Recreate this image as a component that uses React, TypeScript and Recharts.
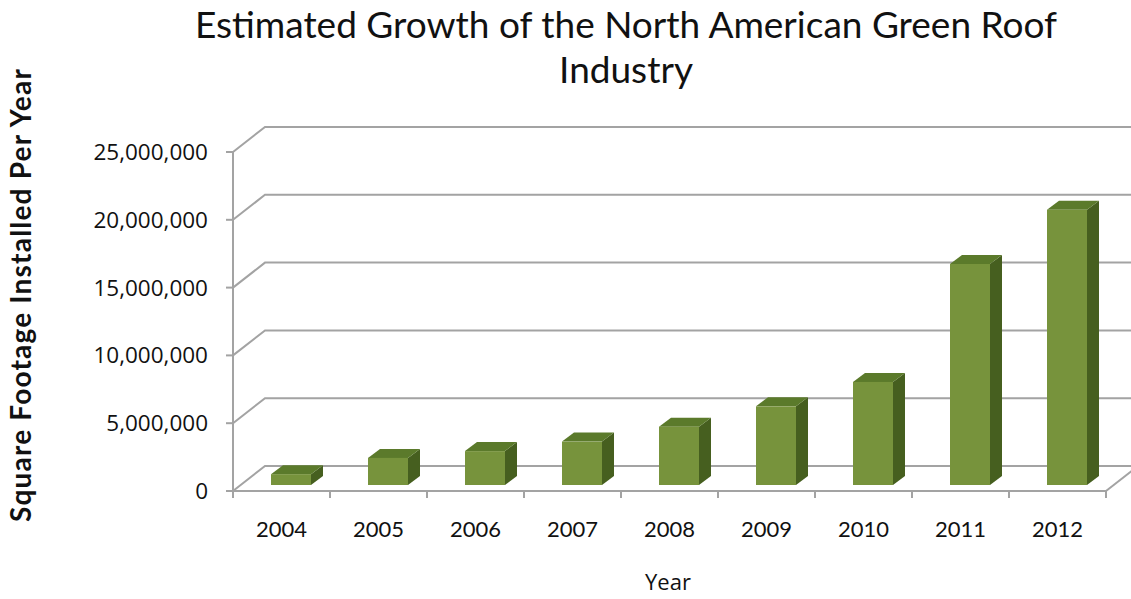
import React from "react";
import { BarChart, Bar, XAxis, YAxis, CartesianGrid } from "recharts";

const YEARS = ["2004", "2005", "2006", "2007", "2008", "2009", "2010", "2011", "2012"];
const SQ_FT = [800000, 2000000, 2500000, 3200000, 4300000, 5800000, 7600000, 16300000, 20300000];
const Y_TICKS = [0, 5000000, 10000000, 15000000, 20000000, 25000000];

const data = YEARS.map((year, i) => ({ year, value: SQ_FT[i] }));

const W = 1131;
const H = 599;
const X_AXIS_H = 30;
const MARGIN = { top: 152, right: 25, bottom: 108 - X_AXIS_H, left: 40 };
const Y_AXIS_W = 193;
const PLOT_W = W - MARGIN.left - MARGIN.right - Y_AXIS_W;
const BAND = PLOT_W / YEARS.length;

// perspective of the back wall and of the bars inside the box
const WALL_DX = 32;
const WALL_DY = -25;
const BAR_DX = 9;
const BAR_DY = -6;
const TOP_DX = 12;
const TOP_DY = -9;

const GRID = "#a3a3a3";
const FRONT = "#77933c";
const TOP = "#5b7a2b";
const SIDE = "#465f1f";

const TITLE_FONT = "Lato, 'Open Sans', sans-serif";
const TICK_FONT = "'Open Sans', 'Noto Sans', sans-serif";

function WallLine(props: any) {
  const { x1, y1, x2 } = props;
  const d = `M${x1},${y1} L${x1 + WALL_DX},${y1 + WALL_DY} L${x2 + WALL_DX},${y1 + WALL_DY}`;
  return <path d={d} fill="none" stroke={GRID} strokeWidth={2} />;
}

function Box3D(props: any) {
  const { x, y, width, height } = props;
  if (height == null || width == null) return null;
  const fx = x + BAR_DX;
  const fy = y + BAR_DY;
  const top = `M${fx},${fy} L${fx + TOP_DX},${fy + TOP_DY} L${fx + width + TOP_DX},${fy + TOP_DY} L${fx + width},${fy} Z`;
  const side = `M${fx + width},${fy} L${fx + width + TOP_DX},${fy + TOP_DY} L${fx + width + TOP_DX},${fy + height + TOP_DY} L${fx + width},${fy + height} Z`;
  return (
    <g>
      <path d={side} fill={SIDE} />
      <path d={top} fill={TOP} />
      <rect x={fx} y={fy} width={width} height={height} fill={FRONT} />
    </g>
  );
}

function YearTick(props: any) {
  const { x, y, payload, index } = props;
  const axisY = y - 8;
  const left = x - BAND / 2;
  const right = x + BAND / 2;
  const last = index === YEARS.length - 1;
  return (
    <g>
      <line x1={left} y1={axisY} x2={left} y2={axisY + 7} stroke={GRID} strokeWidth={2} />
      {last && (
        <>
          <line x1={right} y1={axisY} x2={right} y2={axisY + 7} stroke={GRID} strokeWidth={2} />
          <line x1={right} y1={axisY} x2={right + WALL_DX} y2={axisY + WALL_DY} stroke={GRID} strokeWidth={2} />
        </>
      )}
      <text x={x} y={axisY + 46} textAnchor="middle" fontFamily={TITLE_FONT} fontSize={22} fill="#111">
        {payload.value}
      </text>
    </g>
  );
}

const fmt = (v: number) => v.toLocaleString("en-US");

export default function App() {
  return (
    <div style={{ position: "absolute", left: 0, top: 0, width: W, height: H, background: "#fff" }}>
      <BarChart width={W} height={H} data={data} margin={MARGIN} barSize={40}>
        <CartesianGrid vertical={false} horizontal={(p: any) => <WallLine key={p.key} {...p} />} />
        <XAxis
          dataKey="year"
          height={X_AXIS_H}
          axisLine={{ stroke: GRID, strokeWidth: 2 }}
          tickLine={false}
          tick={<YearTick />}
          interval={0}
        />
        <YAxis
          width={Y_AXIS_W}
          domain={[0, 25000000]}
          ticks={Y_TICKS}
          tickFormatter={fmt}
          axisLine={{ stroke: GRID, strokeWidth: 2 }}
          tickLine={{ stroke: GRID, strokeWidth: 2 }}
          tickSize={7}
          tickMargin={18}
          tick={{ fontFamily: TICK_FONT, fontSize: 22.5, fill: "#111" }}
        />
        <Bar dataKey="value" shape={<Box3D />} isAnimationActive={false} />
      </BarChart>
      <svg
        width={W}
        height={H}
        style={{ position: "absolute", left: 0, top: 0, pointerEvents: "none" }}
      >
        <text x={626} y={38} textAnchor="middle" fontFamily={TITLE_FONT} fontSize={37} fill="#111">
          Estimated Growth of the North American Green Roof
        </text>
        <text x={626} y={83} textAnchor="middle" fontFamily={TITLE_FONT} fontSize={37} fill="#111">
          Industry
        </text>
        <text
          x={0}
          y={0}
          transform="translate(31,295) rotate(-90)"
          textAnchor="middle"
          fontFamily={TITLE_FONT}
          fontWeight={700}
          fontSize={28}
          letterSpacing={1.2}
          fill="#111"
        >
          Square Footage Installed Per Year
        </text>
        <text x={668} y={590} textAnchor="middle" fontFamily={TICK_FONT} fontSize={22} fill="#111">
          Year
        </text>
      </svg>
    </div>
  );
}
